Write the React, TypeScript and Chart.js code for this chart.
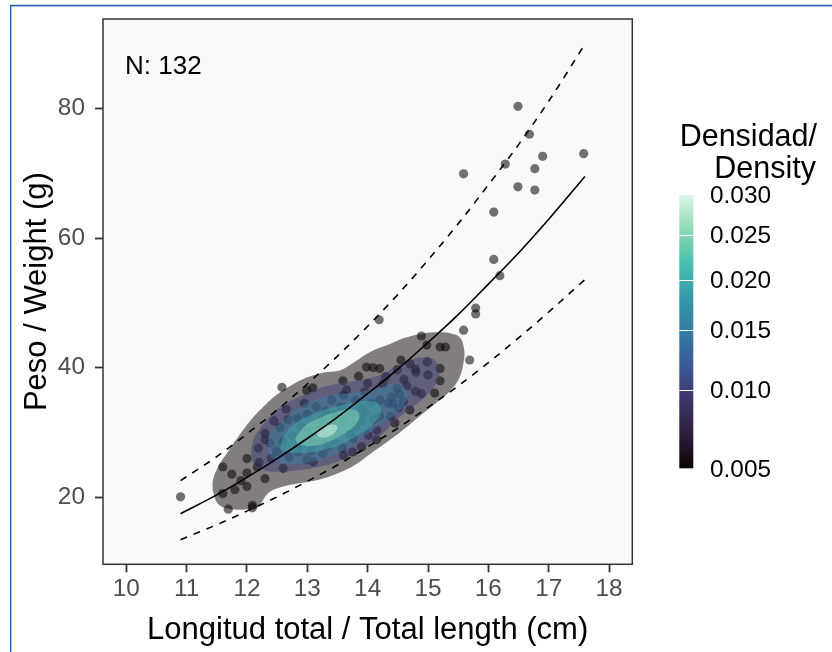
import React, { useEffect, useRef } from "react";
import { Chart, registerables } from "chart.js";

Chart.register(...registerables);

// ---------- data ----------
const fishLength = [
  16.49, 16.68, 15.59, 16.28, 16.9, 17.58, 16.77, 16.49, 16.77, 16.09,
  16.09, 16.19, 15.79, 15.79, 15.59, 15.69, 14.19, 12.58, 10.9, 11.69,
  12.09, 12.09, 11.6, 11.8, 12.0, 11.6, 12.0, 12.0, 12.3, 12.99,
  13.09, 13.59, 13.98, 14.09, 14.2, 14.49, 14.7, 14.79, 14.8, 14.89,
  14.98, 15.2, 15.29, 14.99, 15.2, 15.2, 15.11, 14.79, 14.89, 14.49,
  14.4, 14.53, 14.42, 14.51, 14.59, 14.2, 14.34, 14.2, 14.38, 14.01,
  13.76, 13.9, 14.15, 13.6, 13.4, 13.58, 13.26, 12.99, 13.1, 12.84,
  12.68, 12.9, 12.3, 12.3, 12.19, 12.38, 12.49, 12.17, 13.2, 13.4,
  13.5, 13.3, 13.6, 13.7, 13.1, 12.9, 13.8, 13.45, 13.25, 13.0,
  12.75, 12.6, 13.9, 14.05, 13.7, 13.35, 12.85, 13.55, 14.1, 13.95,
  14.25, 13.8, 12.55, 12.45, 12.7, 13.15, 13.0, 14.3, 14.6, 14.0,
  13.65, 12.95, 12.4, 11.9, 12.6, 13.45, 14.45, 14.7, 15.0, 14.55,
  13.3, 13.75, 12.2, 11.75, 13.85, 14.65, 13.05, 12.65, 13.6, 14.15,
  13.9, 13.95,
];
const fishWeight = [
  80.3, 76.0, 69.9, 71.4, 72.6, 73.0, 70.7, 67.9, 67.4, 64.0,
  56.7, 54.2, 49.2, 48.3, 45.8, 41.2, 47.4, 37.0, 20.1, 18.2,
  18.8, 18.4, 20.6, 21.2, 21.7, 24.7, 26.0, 23.8, 22.9, 36.5,
  36.9, 38.0, 40.1, 40.0, 39.9, 39.7, 40.6, 39.8, 39.3, 44.9,
  43.5, 43.2, 43.2, 40.9, 39.9, 38.0, 36.1, 36.4, 36.0, 36.8,
  35.5, 36.0, 34.5, 33.8, 34.8, 35.0, 34.5, 32.5, 32.5, 29.6,
  29.1, 27.8, 30.4, 35.8, 35.0, 27.6, 26.8, 25.8, 25.5, 32.2,
  32.0, 30.9, 29.9, 28.9, 27.6, 28.4, 27.1, 24.7, 30.5, 31.2,
  30.0, 29.2, 31.8, 33.0, 28.3, 28.0, 31.0, 32.8, 32.0, 30.0,
  29.5, 28.6, 33.8, 34.5, 29.8, 27.9, 27.0, 33.9, 32.0, 36.3,
  37.5, 35.0, 30.8, 31.8, 26.2, 34.0, 32.8, 38.6, 38.2, 37.6,
  36.6, 34.5, 26.0, 22.6, 24.5, 28.8, 31.5, 33.5, 38.9, 41.2,
  33.3, 27.0, 25.4, 23.6, 38.7, 37.2, 27.2, 33.6, 26.5, 28.9,
  31.8, 33.0,
];

const fitLength = [10.9, 11.5, 12.0, 12.5, 13.0, 13.5, 14.0, 14.5, 15.0, 15.5, 16.0, 16.5, 17.0, 17.6];
const fitWeight = [17.5, 20.4, 23.1, 26.0, 29.1, 32.4, 36.0, 39.8, 43.9, 48.2, 52.9, 57.7, 62.9, 69.5];
const upperWeight = [22.6, 26.3, 29.8, 33.5, 37.5, 41.8, 46.4, 51.3, 56.6, 62.2, 68.2, 74.4, 81.1, 89.9];
const lowerWeight = [13.5, 15.8, 17.9, 20.1, 22.5, 25.0, 27.8, 30.7, 33.9, 37.2, 40.8, 44.6, 48.6, 53.6];

const contourLevels = [0.005, 0.01, 0.015, 0.02, 0.025, 0.03];
const contour005: [number, number][] = [
  [11.43, 21.18], [11.44, 22.8], [11.52, 24.68], [11.69, 27.11], [11.87, 29.54], [12.07, 31.97],
  [12.29, 34.13], [12.52, 36.02], [12.75, 37.37], [12.98, 38.45], [13.26, 39.25], [13.55, 39.63],
  [13.78, 40.87], [14.06, 42.5], [14.35, 43.57], [14.63, 44.65], [14.92, 45.3], [15.15, 45.46],
  [15.38, 45.3], [15.53, 44.65], [15.6, 42.76], [15.59, 40.87], [15.52, 38.45], [15.38, 36.56],
  [15.15, 34.67], [14.86, 32.51], [14.58, 30.35], [14.35, 28.73], [14.06, 26.84], [13.78, 24.96],
  [13.55, 23.88], [13.32, 23.07], [13.09, 22.53], [12.75, 21.99], [12.52, 21.45], [12.35, 20.64],
  [12.18, 18.48], [12.07, 18.21], [11.72, 18.21], [11.52, 19.02],
];
const contour010: [number, number][] = [
  [12.07, 27.58], [12.13, 29.37], [12.33, 31.95], [12.6, 34.26], [12.88, 35.54], [13.21, 36.83],
  [13.54, 37.6], [13.87, 38.11], [14.2, 38.88], [14.42, 39.92], [14.7, 41.2], [14.98, 41.61],
  [15.14, 40.93], [15.19, 39.15], [15.14, 37.6], [14.98, 35.8], [14.76, 34.0], [14.53, 32.46],
  [14.31, 30.41], [14.09, 28.6], [13.82, 27.06], [13.49, 25.52], [13.21, 24.75], [12.88, 24.24],
  [12.55, 23.98], [12.27, 24.24], [12.1, 25.27],
];
const contour015: [number, number][] = [
  [12.34, 28.6], [12.41, 30.14], [12.55, 31.44], [12.88, 33.9], [13.21, 35.29], [13.54, 35.95],
  [13.87, 36.31], [14.2, 36.93], [14.42, 37.6], [14.56, 37.34], [14.66, 36.16], [14.62, 34.52],
  [14.48, 32.98], [14.2, 31.18], [13.98, 29.63], [13.76, 28.09], [13.49, 26.81], [13.21, 25.78],
  [12.88, 25.16], [12.55, 25.37], [12.38, 26.55],
];
const contour020: [number, number][] = [
  [12.55, 28.09], [12.66, 30.14], [12.88, 31.95], [13.15, 33.08], [13.43, 33.9], [13.71, 34.52],
  [13.98, 34.92], [14.18, 34.41], [14.22, 32.98], [14.09, 31.33], [13.87, 29.79], [13.65, 28.6],
  [13.38, 27.58], [13.04, 26.91], [12.77, 26.91], [12.58, 27.32],
];
const contour025: [number, number][] = [
  [12.8, 29.13], [12.96, 31.02], [13.21, 32.3], [13.49, 33.23], [13.73, 33.6], [13.86, 32.87],
  [13.82, 31.44], [13.62, 29.9], [13.35, 28.6], [13.07, 27.94], [12.85, 28.25],
];
const contour030: [number, number][] = [
  [13.15, 29.9], [13.24, 30.82], [13.38, 31.22], [13.49, 31.02], [13.47, 30.14], [13.35, 29.37],
  [13.21, 29.28],
];
const contours = [contour005, contour010, contour015, contour020, contour025, contour030];

const xTicks = [10, 11, 12, 13, 14, 15, 16, 17, 18];
const yTicks = [20, 40, 60, 80];
const legendBreaks = [0.005, 0.01, 0.015, 0.02, 0.025, 0.03];

const xTitle = "Longitud total / Total length (cm)";
const yTitle = "Peso / Weight (g)";
const legendTitle = ["Densidad/", "Density"];

// ---------- styling ----------
const FONT = '"Liberation Sans", Arial, Helvetica, sans-serif';
const xMin = 9.615, xMax = 18.385, yMin = 9.7, yMax = 93.77;

const makoStops: [number, string][] = [
  [0, "#0B0405"], [0.125, "#2E1E3C"], [0.25, "#3E356B"], [0.375, "#3B5897"],
  [0.5, "#357BA2"], [0.625, "#3499A9"], [0.75, "#49C1AD"], [0.875, "#8ED9B3"], [1, "#DEF5E5"],
];

function hexToRgb(h: string): number[] {
  const n = parseInt(h.slice(1), 16);
  return [(n >> 16) & 255, (n >> 8) & 255, n & 255];
}
function makoAt(t: number): number[] {
  const tt = Math.max(0, Math.min(1, t));
  for (let i = 1; i < makoStops.length; i++) {
    const [t1, c1] = makoStops[i];
    const [t0, c0] = makoStops[i - 1];
    if (tt <= t1) {
      const f = (tt - t0) / (t1 - t0);
      const a = hexToRgb(c0), b = hexToRgb(c1);
      return a.map((v, k) => Math.round(v + (b[k] - v) * f));
    }
  }
  return hexToRgb(makoStops[makoStops.length - 1][1]);
}
const lo = legendBreaks[0], hi = legendBreaks[legendBreaks.length - 1];
const sqrtPos = (v: number) => (Math.sqrt(v) - Math.sqrt(lo)) / (Math.sqrt(hi) - Math.sqrt(lo));
function levelColor(level: number, alpha: number) {
  const [r, g, b] = makoAt(sqrtPos(level));
  return `rgba(${r},${g},${b},${alpha})`;
}

const decorPlugin = {
  id: "decor",
  beforeDraw(chart: any) {
    const { ctx, chartArea: a } = chart;
    ctx.save();
    ctx.fillStyle = "#ffffff";
    ctx.fillRect(0, 0, chart.width, chart.height);
    ctx.fillStyle = "#d9dfe7";
    ctx.fillRect(10, 4, chart.width - 10, 1);
    ctx.fillStyle = "#1a5fb4";
    ctx.fillRect(10, 5, chart.width - 10, 1.4);
    ctx.fillRect(10, 5, 1.4, chart.height - 5);
    ctx.fillStyle = "#f9f9f9";
    ctx.fillRect(a.left, a.top, a.right - a.left, a.bottom - a.top);
    ctx.restore();
  },
  afterDraw(chart: any) {
    const { ctx, chartArea: a, scales } = chart;
    ctx.save();
    // panel border
    ctx.strokeStyle = "#333333";
    ctx.lineWidth = 1.5;
    ctx.strokeRect(a.left, a.top, a.right - a.left, a.bottom - a.top);
    // N label
    ctx.fillStyle = "#000000";
    ctx.font = `26px ${FONT}`;
    ctx.textAlign = "left";
    ctx.textBaseline = "alphabetic";
    ctx.fillText(`N: ${fishLength.length}`, scales.x.getPixelForValue(9.98), scales.y.getPixelForValue(85.3));
    // legend title
    ctx.font = `30.5px ${FONT}`;
    ctx.textAlign = "right";
    ctx.fillText(legendTitle[0], 817, 146);
    ctx.fillText(legendTitle[1], 816, 178);
    // colour bar
    const barTop = 195, barBottom = 468.3, barLeft = 679.3, barW = 14;
    const yFor = (v: number) => barBottom - sqrtPos(v) * (barBottom - barTop);
    const grad = ctx.createLinearGradient(0, barBottom, 0, barTop);
    makoStops.forEach(([t, c]) => grad.addColorStop(t, c));
    ctx.fillStyle = grad;
    ctx.fillRect(barLeft, barTop, barW, barBottom - barTop);
    ctx.strokeStyle = "#ffffff";
    ctx.lineWidth = 1;
    legendBreaks.slice(1, -1).forEach((v) => {
      const y = Math.round(yFor(v)) + 0.5;
      ctx.beginPath();
      ctx.moveTo(barLeft, y);
      ctx.lineTo(barLeft + barW, y);
      ctx.stroke();
    });
    ctx.fillStyle = "#000000";
    ctx.font = `24.4px ${FONT}`;
    ctx.textAlign = "left";
    ctx.textBaseline = "middle";
    legendBreaks.forEach((v) => {
      ctx.fillText(v.toFixed(3), 710, yFor(v) + 1.5);
    });
    ctx.restore();
  },
};

export default function App() {
  const ref = useRef<HTMLCanvasElement | null>(null);
  useEffect(() => {
    const canvas = ref.current;
    if (!canvas) return;
    const datasets: any[] = [];
    // points first (underneath the density polygons)
    datasets.push({
      data: fishLength.map((x, i) => ({ x, y: fishWeight[i] })),
      showLine: false,
      pointRadius: 4.6,
      pointBackgroundColor: "rgba(0,0,0,0.55)",
      pointBorderWidth: 0,
      pointBorderColor: "rgba(0,0,0,0)",
      order: 20,
    });
    contours.forEach((poly, i) => {
      const pts = poly.map(([x, y]) => ({ x, y }));
      pts.push({ x: poly[0][0], y: poly[0][1] });
      datasets.push({
        data: pts,
        showLine: true,
        fill: "shape",
        backgroundColor: levelColor(contourLevels[i], 0.5),
        borderColor: "rgba(0,0,0,0)",
        borderWidth: 0,
        pointRadius: 0,
        tension: 0.4,
        order: 10 - i,
      });
    });
    const lineDs = (ys: number[], dash: number[]) => ({
      data: fitLength.map((x, i) => ({ x, y: ys[i] })),
      showLine: true,
      fill: false,
      borderColor: "#000000",
      borderWidth: 1.6,
      borderDash: dash,
      pointRadius: 0,
      cubicInterpolationMode: "monotone",
      order: 1,
    });
    datasets.push(lineDs(fitWeight, []));
    datasets.push(lineDs(upperWeight, [7, 7]));
    datasets.push(lineDs(lowerWeight, [7, 7]));

    const zeroPad = (s: any) => {
      s.paddingTop = 0;
      s.paddingBottom = 0;
      s.paddingLeft = 0;
      s.paddingRight = 0;
    };

    const chart = new Chart(canvas, {
      type: "scatter",
      data: { datasets },
      options: {
        animation: false,
        responsive: false,
        events: [],
        layout: { padding: { top: 19, right: 199.7, left: 0, bottom: 0 } },
        plugins: { legend: { display: false }, tooltip: { enabled: false } },
        scales: {
          x: {
            type: "linear",
            min: xMin,
            max: xMax,
            afterBuildTicks: (s: any) => {
              s.ticks = xTicks.map((v) => ({ value: v }));
            },
            afterFit: (s: any) => {
              s.height = 87.7;
              zeroPad(s);
            },
            grid: { drawOnChartArea: false, drawTicks: true, tickLength: 8, tickColor: "#333333", tickWidth: 1.8 },
            border: { display: false },
            ticks: {
              font: { family: FONT, size: 24.4 },
              color: "#4d4d4d",
              padding: 2,
              maxRotation: 0,
              autoSkip: false,
              callback: (v: any) => String(v),
            },
            title: {
              display: true,
              text: xTitle,
              color: "#000000",
              font: { family: FONT, size: 31 },
              padding: { top: 0, bottom: 3.2 },
            },
          },
          y: {
            type: "linear",
            min: yMin,
            max: yMax,
            afterBuildTicks: (s: any) => {
              s.ticks = yTicks.map((v) => ({ value: v }));
            },
            afterFit: (s: any) => {
              s.width = 103;
              zeroPad(s);
            },
            grid: { drawOnChartArea: false, drawTicks: true, tickLength: 8, tickColor: "#333333", tickWidth: 1.8 },
            border: { display: false },
            ticks: {
              font: { family: FONT, size: 24.4 },
              color: "#4d4d4d",
              padding: 10,
              autoSkip: false,
              callback: (v: any) => String(v),
            },
            title: {
              display: true,
              text: yTitle,
              color: "#000000",
              font: { family: FONT, size: 31 },
              padding: { top: 19.2, bottom: 0 },
            },
          },
        },
      },
      plugins: [decorPlugin],
    } as any);
    return () => chart.destroy();
  }, []);

  return (
    <div style={{ position: "fixed", left: 0, top: 0, width: 832, height: 652, background: "#ffffff" }}>
      <canvas ref={ref} width={832} height={652} style={{ width: 832, height: 652, display: "block" }} />
    </div>
  );
}
